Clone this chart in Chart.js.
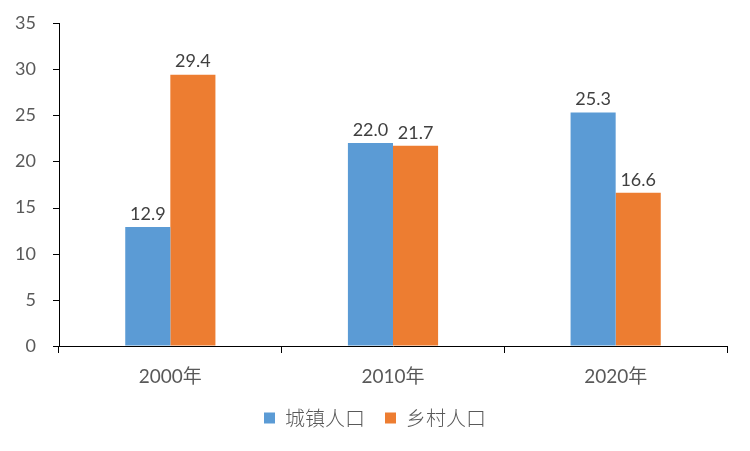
<!DOCTYPE html>
<html><head><meta charset="utf-8">
<script src="https://cdn.jsdelivr.net/npm/chart.js@4"></script>
<style>html,body{margin:0;padding:0;background:#fff;}#wrap{width:750px;height:451px;}</style>
</head><body><div id="wrap"><canvas id="c" width="750" height="451"></canvas></div>
<script>
const categories = ['2000年', '2010年', '2020年'];
const urbanValues = [12.9, 22.0, 25.3];
const ruralValues = [29.4, 21.7, 16.6];
const seriesNames = ['城镇人口', '乡村人口'];
const yTicks = [0, 5, 10, 15, 20, 25, 30, 35];

const FONT = "Lato, 'Noto Sans CJK SC', sans-serif";
const CJK = "'Noto Sans CJK SC', sans-serif";

const labelPlugin = {
  id: 'valLabels',
  afterDatasetsDraw(chart) {
    const ctx = chart.ctx;
    ctx.save();
    ctx.font = '18px ' + FONT;
    ctx.fillStyle = '#404040';
    ctx.textAlign = 'center';
    ctx.textBaseline = 'bottom';
    chart.data.datasets.forEach((ds, i) => {
      chart.getDatasetMeta(i).data.forEach((bar, j) => {
        ctx.fillText(ds.data[j].toFixed(1), bar.x, bar.y - 4);
      });
    });
    ctx.restore();
  }
};

// short outward tick marks on the y axis, at the scale's own tick positions
const yTickMarks = {
  id: 'yTickMarks',
  afterDraw(chart) {
    const s = chart.scales.y;
    const ctx = chart.ctx;
    ctx.save();
    ctx.strokeStyle = '#000';
    ctx.lineWidth = 1;
    s.ticks.forEach(t => {
      const y = Math.round(s.getPixelForValue(t.value)) + 0.5;
      ctx.beginPath();
      ctx.moveTo(s.right - 6, y);
      ctx.lineTo(s.right, y);
      ctx.stroke();
    });
    ctx.restore();
  }
};

new Chart(document.getElementById('c'), {
  type: 'bar',
  data: {
    labels: categories,
    datasets: [
      { label: seriesNames[0], data: urbanValues, backgroundColor: '#5B9BD5', categoryPercentage: 0.405, barPercentage: 1 },
      { label: seriesNames[1], data: ruralValues, backgroundColor: '#ED7D31', categoryPercentage: 0.405, barPercentage: 1 }
    ]
  },
  options: {
    responsive: false,
    animation: false,
    layout: { padding: { top: 23, right: 0, left: 0, bottom: 13 } },
    plugins: {
      tooltip: { enabled: false },
      legend: {
        position: 'bottom',
        labels: { boxWidth: 11, boxHeight: 11, padding: 20, color: '#595959', font: { family: CJK, size: 20, weight: '300' } }
      }
    },
    scales: {
      x: {
        grid: { display: true, drawOnChartArea: false, tickLength: 7, color: '#000', tickColor: '#000', offset: true },
        border: { color: '#000', width: 1 },
        ticks: { color: '#595959', font: { family: FONT, size: 19 }, padding: 12 },
        afterFit(s) { s.height = 42; }
      },
      y: {
        min: 0, max: 35,
        afterBuildTicks(s) { s.ticks = yTicks.map(v => ({ value: v })); },
        grid: { display: true, drawOnChartArea: false, tickLength: 23, color: 'rgba(0,0,0,0)', tickColor: 'rgba(0,0,0,0)' },
        border: { color: '#000', width: 1 },
        ticks: { color: '#595959', font: { family: FONT, size: 18 }, padding: 0 },
        afterFit(s) { s.width = 59; }
      },
      yRight: {
        position: 'right',
        display: true,
        min: 0, max: 35,
        grid: { display: false },
        border: { display: false },
        ticks: { display: false },
        afterFit(s) { s.width = 23; }
      }
    }
  },
  plugins: [labelPlugin, yTickMarks]
});
</script></body></html>
